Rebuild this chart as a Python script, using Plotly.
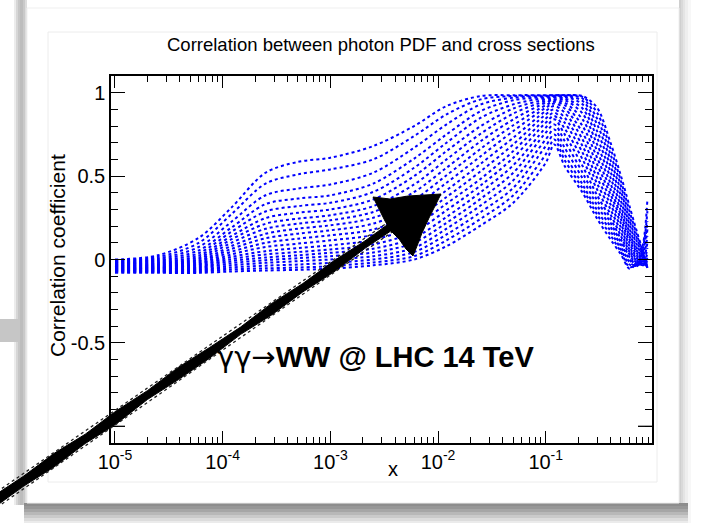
import plotly.graph_objects as go

# ---------------------------------------------------------------- data
# momentum fraction x at which each correlation curve is sampled
x_knots = [1e-5, 2.5e-5, 6e-5, 1.2e-4, 2.5e-4, 5e-4, 1e-3, 2.5e-3, 6e-3, 1.2e-2,
           2.5e-2, 5e-2, 0.1, 0.12, 0.15, 0.22, 0.3, 0.4, 0.5, 0.6, 0.7, 0.8, 0.88]

# correlation coefficient of every curve (top curve first) at each x above
corr_x1e5 = [0.000, -0.004, -0.009, -0.013, -0.017, -0.021, -0.025, -0.029, -0.033, -0.037,
             -0.041, -0.045, -0.049, -0.053, -0.057, -0.061, -0.065, -0.069, -0.074, -0.080]
corr_x25e6 = [0.025, 0.015, 0.006, -0.002, -0.009, -0.016, -0.022, -0.028, -0.033, -0.038,
              -0.043, -0.047, -0.051, -0.055, -0.059, -0.063, -0.067, -0.071, -0.075, -0.080]
corr_x6e5 = [0.130, 0.100, 0.075, 0.055, 0.038, 0.024, 0.012, 0.002, -0.008, -0.016,
             -0.024, -0.031, -0.038, -0.045, -0.051, -0.057, -0.063, -0.069, -0.074, -0.080]
corr_x12e4 = [0.310, 0.270, 0.225, 0.190, 0.165, 0.140, 0.120, 0.100, 0.080, 0.063,
              0.046, 0.030, 0.015, 0.002, -0.010, -0.022, -0.035, -0.048, -0.060, -0.072]
corr_x25e4 = [0.520, 0.455, 0.385, 0.332, 0.288, 0.248, 0.214, 0.184, 0.154, 0.127,
              0.100, 0.075, 0.050, 0.030, 0.012, -0.004, -0.020, -0.037, -0.053, -0.066]
corr_x5e4 = [0.585, 0.510, 0.425, 0.365, 0.320, 0.280, 0.245, 0.215, 0.185, 0.155,
             0.125, 0.095, 0.068, 0.045, 0.025, 0.008, -0.010, -0.030, -0.048, -0.062]
corr_x1e3 = [0.610, 0.540, 0.450, 0.385, 0.340, 0.300, 0.265, 0.235, 0.205, 0.175,
             0.145, 0.115, 0.085, 0.060, 0.040, 0.020, 0.000, -0.020, -0.040, -0.055]
corr_x25e3 = [0.680, 0.600, 0.520, 0.455, 0.405, 0.360, 0.320, 0.285, 0.250, 0.215,
              0.180, 0.148, 0.118, 0.090, 0.065, 0.042, 0.020, 0.000, -0.018, -0.035]
corr_x6e3 = [0.800, 0.740, 0.670, 0.605, 0.550, 0.500, 0.450, 0.405, 0.360, 0.320,
             0.280, 0.240, 0.200, 0.165, 0.130, 0.100, 0.070, 0.045, 0.020, 0.000]
corr_x12e2 = [0.920, 0.870, 0.810, 0.750, 0.700, 0.650, 0.600, 0.550, 0.505, 0.460,
              0.415, 0.375, 0.335, 0.295, 0.255, 0.220, 0.185, 0.150, 0.115, 0.080]
corr_x25e2 = [0.980, 0.960, 0.930, 0.890, 0.850, 0.800, 0.755, 0.710, 0.665, 0.620,
              0.575, 0.530, 0.485, 0.445, 0.405, 0.365, 0.325, 0.285, 0.245, 0.205]
corr_x5e2 = [0.985, 0.980, 0.970, 0.955, 0.930, 0.905, 0.875, 0.840, 0.805, 0.770,
             0.730, 0.690, 0.650, 0.610, 0.565, 0.520, 0.475, 0.430, 0.385, 0.340]
corr_x010 = [0.985, 0.983, 0.980, 0.975, 0.970, 0.960, 0.950, 0.940, 0.925, 0.910,
             0.890, 0.870, 0.845, 0.820, 0.790, 0.760, 0.720, 0.680, 0.630, 0.580]
corr_x012 = [0.985, 0.985, 0.982, 0.980, 0.975, 0.970, 0.960, 0.955, 0.945, 0.935,
             0.920, 0.900, 0.880, 0.860, 0.840, 0.810, 0.780, 0.750, 0.720, 0.690]
corr_x015 = [0.985, 0.985, 0.983, 0.980, 0.975, 0.965, 0.955, 0.940, 0.925, 0.905,
             0.880, 0.850, 0.820, 0.785, 0.750, 0.710, 0.670, 0.630, 0.595, 0.560]
corr_x022 = [0.980, 0.975, 0.965, 0.950, 0.930, 0.905, 0.875, 0.840, 0.800, 0.760,
             0.720, 0.680, 0.640, 0.600, 0.560, 0.520, 0.485, 0.450, 0.425, 0.400]
corr_x030 = [0.910, 0.880, 0.845, 0.810, 0.770, 0.730, 0.690, 0.650, 0.610, 0.570,
             0.530, 0.490, 0.455, 0.420, 0.385, 0.355, 0.325, 0.295, 0.270, 0.245]
corr_x040 = [0.700, 0.665, 0.630, 0.595, 0.560, 0.525, 0.490, 0.455, 0.420, 0.390,
             0.360, 0.330, 0.300, 0.270, 0.245, 0.220, 0.195, 0.170, 0.145, 0.120]
corr_x050 = [0.500, 0.470, 0.440, 0.410, 0.380, 0.350, 0.320, 0.290, 0.265, 0.240,
             0.215, 0.190, 0.165, 0.140, 0.120, 0.100, 0.080, 0.060, 0.045, 0.030]
corr_x060 = [0.320, 0.290, 0.260, 0.235, 0.210, 0.185, 0.160, 0.140, 0.120, 0.100,
             0.080, 0.060, 0.045, 0.030, 0.015, 0.000, -0.015, -0.030, -0.045, -0.055]
corr_x070 = [0.170, 0.150, 0.130, 0.110, 0.090, 0.070, 0.055, 0.040, 0.025, 0.010,
             0.000, -0.010, -0.020, -0.030, -0.035, -0.040, -0.040, -0.035, -0.030, -0.020]
corr_x080 = [0.050, 0.040, 0.030, 0.020, 0.010, 0.000, -0.010, -0.020, -0.025, -0.030,
             -0.035, -0.035, -0.030, -0.020, -0.005, 0.010, 0.030, 0.050, 0.070, 0.090]
corr_x088 = [-0.050, -0.050, -0.050, -0.050, -0.050, -0.048, -0.045, -0.040, -0.035, -0.025,
             -0.010, 0.010, 0.040, 0.070, 0.100, 0.140, 0.180, 0.230, 0.290, 0.360]

corr_columns = [corr_x1e5, corr_x25e6, corr_x6e5, corr_x12e4, corr_x25e4, corr_x5e4,
                corr_x1e3, corr_x25e3, corr_x6e3, corr_x12e2, corr_x25e2, corr_x5e2,
                corr_x010, corr_x012, corr_x015, corr_x022, corr_x030, corr_x040,
                corr_x050, corr_x060, corr_x070, corr_x080, corr_x088]

x_major = [1e-5, 1e-4, 1e-3, 1e-2, 1e-1]
x_major_text = ["10<sup>-5</sup>", "10<sup>-4</sup>", "10<sup>-3</sup>",
                "10<sup>-2</sup>", "10<sup>-1</sup>"]
y_major = [-0.5, 0.0, 0.5, 1.0]
y_major_text = ["-0.5", "0", "0.5", "1"]
y_unlabelled = -1.0

TITLE = "Correlation between photon PDF and cross sections"
Y_TITLE = "Correlation coefficient"
PROCESS = ('<span style="font-family:DejaVu Sans">γγ→</span>'
           '<b>WW @ LHC 14 TeV</b>')

# ---------------------------------------------------------------- page geometry (pixels)
W, H = 703, 523
FL, FR, FT, FB = 111, 652, 76, 443      # plot frame
FONT = "Liberation Sans, Arial, Helvetica, sans-serif"


def fx(p):
    return (p - FL) / (FR - FL)


def fy(p):
    return (FB - p) / (FB - FT)


def rect(x0, y0, x1, y1, fill, layer="below", line=None):
    return dict(type="rect", xref="paper", yref="paper",
                x0=fx(x0), x1=fx(x1), y0=fy(y1), y1=fy(y0),
                fillcolor=fill, line=line or dict(width=0), layer=layer)


def poly(points, fill, layer="above"):
    d = "M " + " L ".join(f"{fx(a):.5f},{fy(b):.5f}" for a, b in points) + " Z"
    return dict(type="path", xref="paper", yref="paper", path=d,
                fillcolor=fill, line=dict(color=fill, width=1), layer=layer)


def polyline(points, color, width, dash, layer="above"):
    d = "M " + " L ".join(f"{fx(a):.5f},{fy(b):.5f}" for a, b in points)
    return dict(type="path", xref="paper", yref="paper", path=d,
                line=dict(color=color, width=width, dash=dash), layer=layer)


fig = go.Figure()

# one dotted trace per curve
n_curves = len(corr_columns[0])
for k in range(n_curves):
    fig.add_trace(go.Scatter(
        x=x_knots, y=[col[k] for col in corr_columns],
        mode="lines", hoverinfo="skip", showlegend=False,
        line=dict(color="#0000ff", width=2, dash="dot", shape="spline", smoothing=0.9),
    ))

# ---------------------------------------------------------------- slide card and shadows
shapes = []
# left edge shadow of the card
for x0, x1, c in [(14, 16, "#ececec"), (16, 18, "#d6d6d6"), (18, 20, "#c6c6c6"),
                  (20, 23, "#bdbdbd"), (23, 25, "#c9c9c9"), (25, 27, "#dddddd")]:
    shapes.append(rect(x0, 0, x1, 505, c))
# edge of a sheet lying behind
shapes.append(rect(0, 319, 18, 342, "#c6c6c6"))
# right edge shadow
for x0, x1, c in [(679, 681, "#cfcfcf"), (681, 683, "#d9d9d9"), (683, 685, "#e4e4e4"),
                  (685, 688, "#eeeeee"), (688, 691, "#f7f7f7")]:
    shapes.append(rect(x0, 0, x1, 523, c))
# bottom shadow
for y0, y1, c in [(503, 506, "#8d8d8d"), (506, 509, "#979797"), (509, 512, "#a6a6a6"),
                  (512, 515, "#b8b8b8"), (515, 518, "#cacaca"), (518, 521, "#dcdcdc"),
                  (521, 523, "#ebebeb")]:
    shapes.append(rect(24, y0, 688, y1, c))
# the card itself
shapes.append(rect(27, 8, 679, 503, "#ffffff", line=dict(color="#efefef", width=1)))
# the canvas inside the card
shapes.append(rect(48, 32, 657, 482, "#ffffff", line=dict(color="#ececec", width=1)))

# long tick at y = -1 on both frame sides (no label there)
yt = FB - (y_unlabelled + 1.1) / 2.2 * (FB - FT)
shapes.append(dict(type="line", xref="paper", yref="paper", x0=0, x1=fx(FL + 14),
                   y0=fy(yt), y1=fy(yt), line=dict(color="black", width=1.3), layer="above"))
shapes.append(dict(type="line", xref="paper", yref="paper", x0=1, x1=fx(FR - 14),
                   y0=fy(yt), y1=fy(yt), line=dict(color="black", width=1.3), layer="above"))

# ---------------------------------------------------------------- hand-drawn arrow
sx0, sy0, sx1, sy1 = -8.0, 503.0, 396.0, 223.0
jit_up = [0.0, 1.0, -0.8, 1.5, -0.5, 0.8, -1.2, 0.5, 1.4, -0.8, 0.8, -0.5, 1.0, 0.0]
jit_dn = [0.0, -0.8, 1.2, -0.5, 1.5, -1.2, 0.5, 0.8, -1.4, 0.8, -0.5, 1.2, -0.8, 0.0]
n = len(jit_up)
upper, lower, fringe_up, fringe_dn = [], [], [], []
for i in range(n):
    t = i / (n - 1)
    cx = sx0 + (sx1 - sx0) * t
    cy = sy0 + (sy1 - sy0) * t
    half = 6.0 - 1.5 * t
    upper.append((cx, cy - half + jit_up[i]))
    lower.append((cx, cy + half + jit_dn[i]))
    fringe_up.append((cx, cy - half - 1.8))
    fringe_dn.append((cx, cy + half + 1.8))
shapes.append(poly(upper + lower[::-1], "#000000"))
shapes.append(polyline(fringe_up, "#222222", 1.3, "dot"))
shapes.append(polyline(fringe_dn, "#222222", 1.3, "dot"))
head = [(373, 197), (390, 199), (408, 196), (425, 195), (441, 194), (436, 204),
        (429, 218), (422, 233), (417, 246), (413, 256), (406, 249), (399, 239),
        (391, 231), (385, 221), (379, 209)]
shapes.append(poly(head, "#000000"))

fig.update_layout(shapes=shapes)

# ---------------------------------------------------------------- text
ann = [
    dict(text=TITLE, x=fx(381), y=fy(45), font=dict(size=18.5)),
    dict(text=Y_TITLE, x=fx(57), y=fy(256), textangle=-90, font=dict(size=21)),
    dict(text="x", x=fx(393), y=fy(469), font=dict(size=20)),
    dict(text=PROCESS, x=fx(215), y=fy(357), xanchor="left", font=dict(size=29)),
]
for a in ann:
    a.setdefault("xanchor", "center")
    a.update(xref="paper", yref="paper", yanchor="middle", showarrow=False)
    a["font"].update(family=FONT, color="black")
fig.update_layout(annotations=ann)

x_minor = [m * d for d in [1e-5, 1e-4, 1e-3, 1e-2, 1e-1] for m in range(2, 10)]

axis_common = dict(showline=True, linecolor="black", linewidth=1.5, mirror="allticks",
                   ticks="inside", tickcolor="black", tickwidth=1.3, showgrid=False,
                   zeroline=False, tickfont=dict(family=FONT, size=20, color="black"))

fig.update_xaxes(type="log", range=[-5.037, -0.013], tickmode="array", tickvals=x_major,
                 ticktext=x_major_text, ticklen=12,
                 minor=dict(ticks="inside", ticklen=6, tickcolor="black", tickwidth=1,
                            tickmode="array", tickvals=x_minor, showgrid=False),
                 **axis_common)
fig.update_yaxes(range=[-1.1, 1.1], tickmode="array", tickvals=y_major,
                 ticktext=y_major_text, ticklen=14,
                 minor=dict(ticks="inside", ticklen=7, tickcolor="black", tickwidth=1,
                            dtick=0.1, tick0=0, showgrid=False),
                 **axis_common)

fig.update_layout(
    width=W, height=H,
    margin=dict(l=FL, r=W - FR, t=FT, b=H - FB, pad=0),
    paper_bgcolor="#ffffff", plot_bgcolor="rgba(0,0,0,0)",
    showlegend=False,
)

fig.write_html("out.html")
